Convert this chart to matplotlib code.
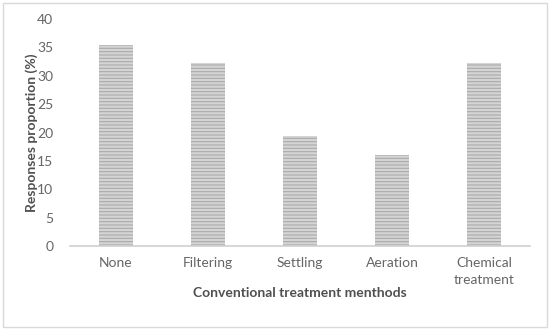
import matplotlib
matplotlib.use("Agg")
import matplotlib.pyplot as plt
from matplotlib.patches import Rectangle

categories = ["None", "Filtering", "Settling", "Aeration", "Chemical\ntreatment"]
values = [35.5, 32.3, 19.4, 16.1, 32.3]
yticks = [0, 5, 10, 15, 20, 25, 30, 35, 40]

plt.rcParams['font.family'] = ['Lato', 'DejaVu Sans']
plt.rcParams['hatch.linewidth'] = 0.8

W, H = 550, 333
fig = plt.figure(figsize=(5.5, 3.33), dpi=100)
ax = fig.add_axes([70/W, 1-246/H, 460/W, (246-19)/H])

ax.bar(range(len(categories)), values, width=0.38, color='#d4d4d4',
       edgecolor='#aaaaaa', hatch='-----', linewidth=0)
ax.set_xlim(-0.5, len(categories)-0.5)
ax.set_ylim(0, 40)
ax.set_yticks(yticks)
ax.set_xticks(range(len(categories)))
ax.set_xticklabels(categories, linespacing=1.5)
for s in ['top', 'right', 'left']:
    ax.spines[s].set_visible(False)
ax.spines['bottom'].set_color('#d0d0d0')
ax.spines['bottom'].set_linewidth(1.2)
ax.tick_params(axis='both', length=0, labelsize=10, colors='#666666', pad=8)
ax.tick_params(axis='y', pad=12)
ax.set_xlabel("Conventional treatment menthods", fontsize=10, fontweight='bold',
              color='#505050', va='center')
ax.set_ylabel("Responses proportion (%)", fontsize=10, fontweight='bold',
              color='#505050', va='center')
ax.xaxis.set_label_coords(0.5, (246-293)/227)
ax.yaxis.set_label_coords((32-70)/460, 0.5)

fig.patches.append(Rectangle((3/W, 1-327/H), 544/W, 324/H, transform=fig.transFigure,
                             fill=False, edgecolor='#d9d9d9', linewidth=1))
fig.savefig("out.png", dpi=100)
